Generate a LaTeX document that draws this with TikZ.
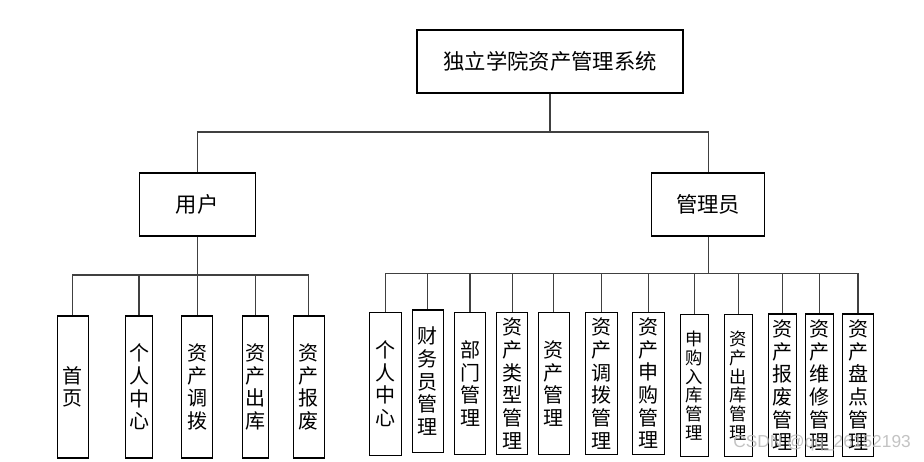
\documentclass[tikz,border=0pt]{standalone}
\usepackage{fontspec}
\newfontfamily\cjk{Noto Sans CJK SC}
\newfontfamily\wmfont{Liberation Sans}
\begin{document}
\begin{tikzpicture}[x=0.75pt,y=-0.75pt,
  box/.style={draw=black,line width=0.8pt,inner sep=0pt,align=center,font=\cjk\fontsize{16}{18}\selectfont},
  cbox/.style={draw=black,line width=0.8pt,inner sep=0pt,align=center,font=\cjk\fontsize{15}{17}\selectfont,minimum height=107pt},
  sbox/.style={cbox,font=\cjk\fontsize{13}{14}\selectfont},
  conn/.style={draw=black!75,line width=0.8pt},
  wm/.style={text=gray!55,opacity=0.85,font=\wmfont\fontsize{13}{15}\selectfont,inner sep=0pt}]
\useasboundingbox (0,0) rectangle (924,461);
\fill[white] (0,0) rectangle (924,461);
% top levels
\node[box,minimum width=199.5pt,minimum height=47.25pt] (main) at (550,61.5) {独立学院资产管理系统};
\node[box,minimum width=87.2pt,minimum height=47.25pt] (user) at (197.2,204.5) {用户};
\node[box,minimum width=85.1pt,minimum height=47.25pt] (admin) at (708.2,204.5) {管理员};
% user children
\node[cbox,minimum width=23.25pt,minimum height=106.5pt] (u1) at (72.8,387) {首\\页};
\node[cbox,minimum width=20pt,minimum height=106.5pt] (u2) at (139,387) {个\\人\\中\\心};
\node[cbox,minimum width=23.25pt,minimum height=106.5pt] (u3) at (197.2,387) {资\\产\\调\\拨};
\node[cbox,minimum width=19.5pt,minimum height=106.5pt] (u4) at (255.3,387) {资\\产\\出\\库};
\node[cbox,minimum width=23pt,minimum height=106.5pt] (u5) at (308.7,387) {资\\产\\报\\废};
% admin children
\node[cbox,minimum width=23.8pt] (a1) at (385.8,383.7) {个\\人\\中\\心};
\node[cbox,minimum width=23.25pt] (a2) at (427.8,381.3) {财\\务\\员\\管\\理};
\node[cbox,minimum width=23.5pt] (a3) at (470,383.5) {部\\门\\管\\理};
\node[cbox,minimum width=23.25pt] (a4) at (512.2,383.5) {资\\产\\类\\型\\管\\理};
\node[cbox,minimum width=23.25pt] (a5) at (553.8,383.5) {资\\产\\管\\理};
\node[cbox,minimum width=23.7pt] (a6) at (601.5,383.5) {资\\产\\调\\拨\\管\\理};
\node[cbox,minimum width=23.7pt,minimum height=106.5pt] (a7) at (648.5,383.3) {资\\产\\申\\购\\管\\理};
\node[sbox,minimum width=21.2pt] (a8) at (694.2,385.5) {申\\购\\入\\库\\管\\理};
\node[sbox,minimum width=21pt] (a9) at (738.3,385.5) {资\\产\\出\\库\\管\\理};
\node[cbox,minimum width=21.3pt] (a10) at (782.5,385.3) {资\\产\\报\\废\\管\\理};
\node[cbox,minimum width=20.7pt] (a11) at (819.5,385.3) {资\\产\\维\\修\\管\\理};
\node[cbox,minimum width=23pt] (a12) at (858,385.3) {资\\产\\盘\\点\\管\\理};
% buses
\coordinate (bus0) at (550,132);
\coordinate (ubus) at (197.2,275);
\coordinate (abus) at (708.2,273.5);
\draw[conn] (main.south) -- (bus0);
\draw[conn] (bus0) -| (user.north);
\draw[conn] (bus0) -| (admin.north);
\draw[conn] (user.south) -- (ubus);
\foreach \n in {u1,u2,u3,u4,u5} {\draw[conn] (ubus) -| (\n.north);}
\draw[conn] (admin.south) -- (abus);
\foreach \n in {a1,a2,a3,a4,a5,a6,a7,a8,a9,a10,a11,a12} {\draw[conn] (abus) -| (\n.north);}
% watermark
\node[wm,anchor=west] (wmark) at (733,443) {CSDN @qq\_26152193};
\end{tikzpicture}
\end{document}
